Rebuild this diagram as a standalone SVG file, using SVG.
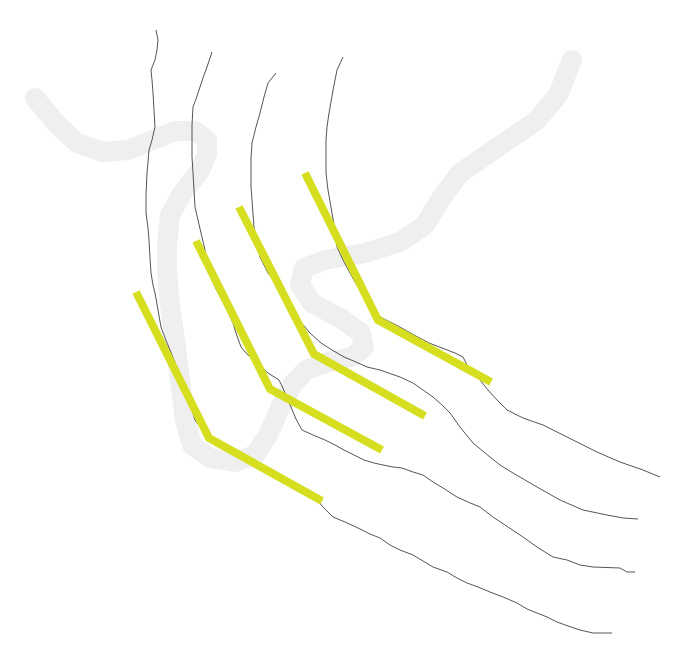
<svg xmlns="http://www.w3.org/2000/svg" width="675" height="669" viewBox="0 0 675 669">
<style>
.band{fill:none;stroke:#efefef;stroke-width:20;stroke-linecap:round;stroke-linejoin:round}
.contour{fill:none;stroke:#555555;stroke-width:1;stroke-linejoin:round}
.hl{fill:none;stroke:#d5df1f;stroke-width:8;stroke-linejoin:miter}
</style>
<rect width="675" height="669" fill="#ffffff"/>
<g id="band">
<polyline class="band" points="35,98 55,122 77,143 103,152 128,150 153,140 175,131 195,131 207,140 207,155 199,172 183,192 170,215 167,245 167,273 170,305 175,340 180,380 185,420 192,445 210,458 235,462 255,455 268,435 280,408 292,385 306,370 328,362 352,357 364,347 361,333 340,318 312,303 300,285 304,268 325,260 365,253 400,242 425,225 440,200 460,173 498,147 536,121 558,95 572,60"/>
</g>
<g id="contours">
<polyline class="contour" points="156,30 158,40 157,50 155,60 151,70 152,80 153,93 154,110 155,127 152,140 149,150 148,162 147,173 146,195 146,213 148,228 149,240 150,258 151,273 153,285 155,293 158,310 161,327 165,338 170,350 174,360 178,370 183,385 188,400 192,410 195,420 201,428 206,437 212,442 230,452 260,468 290,484 318,500 322,506 328,512 333,517 345,522 358,528 370,534 380,538 390,545 400,550 413,555 423,561 433,567 447,572 457,578 467,583 478,587 490,592 503,597 517,603 527,609 537,613 547,617 557,622 568,626 580,630 593,633 612,633"/>
<polyline class="contour" points="212,52 207,67 203,78 199,90 196,99 193,107 192,125 192,140 192,157 193,173 194,190 195,207 198,220 201,233 205,250 207,262 209,273 215,287 222,300 228,312 233,323 237,336 241,347 247,354 253,360 261,367 268,373 279,380 282,386 285,393 288,400 291,407 296,419 302,430 313,435 325,440 335,445 344,450 354,455 364,460 374,463 383,465 393,467 402,468 413,472 423,475 433,482 443,488 457,497 468,502 480,507 493,517 508,527 523,537 537,547 553,557 567,560 580,565 593,567 620,568 627,572 635,572"/>
<polyline class="contour" points="276,73 268,83 264,97 260,113 256,127 252,143 251,158 251,173 251,187 252,200 253,214 254,227 257,242 260,257 268,273 276,283 285,300 292,310 299,320 310,333 321,343 332,350 344,357 356,362 367,367 380,370 400,377 413,383 423,390 433,397 442,405 450,413 460,427 473,443 490,457 500,465 513,473 537,487 560,500 583,510 607,515 623,518 638,519"/>
<polyline class="contour" points="343,57 337,70 333,90 331,102 329,113 327,127 326,140 326,157 326,173 328,190 331,207 333,219 335,230 337,247 343,260 350,273 355,282 360,290 367,300 373,310 382,318 398,326 414,335 429,343 442,348 455,353 463,357 467,365 473,372 480,380 488,390 497,400 507,410 523,418 543,425 557,432 573,440 597,452 620,462 643,470 660,477"/>
</g>
<g id="highlights">
<polyline class="hl" points="136,292 209,438 322,501"/>
<polyline class="hl" points="196,241 270,389 382,450"/>
<polyline class="hl" points="239,207 314,354 425,416"/>
<polyline class="hl" points="305,173 378,320 491,382"/>
</g>
</svg>
